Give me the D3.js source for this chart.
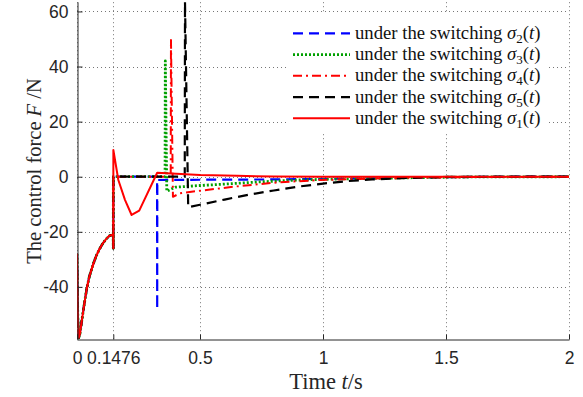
<!DOCTYPE html>
<html>
<head>
<meta charset="utf-8">
<script src="https://cdn.jsdelivr.net/npm/d3@7"></script>
<style>
  html, body { margin: 0; padding: 0; background: #fff; }
  svg { display: block; }
</style>
</head>
<body>
<svg id="chart" width="583" height="397"></svg>
<script>
// ---------- data ----------
const xTicks = [0, 0.1476, 0.5, 1, 1.5, 2];
const xTickLabels = ["0", "0.1476", "0.5", "1", "1.5", "2"];
const yTicks = [-40, -20, 0, 20, 40, 60];
const yTickLabels = ["-40", "-20", "0", "20", "40", "60"];

// shared start (all switching laws identical until t = 0.1476)
const prefixT = [0, 0.003, 0.007, 0.012, 0.02, 0.03, 0.04, 0.05, 0.065, 0.077, 0.09, 0.105, 0.12, 0.131, 0.14, 0.147, 0.1476];
const prefixF = [-28, -50, -58.5, -57, -52, -46, -40.5, -36.3, -32, -29, -26.5, -24.2, -22.5, -21.5, -21.2, -21.1, -26];

// sigma_1 (red solid)
const s1T = [0.1478, 0.168, 0.195, 0.222, 0.253, 0.326, 0.5, 0.65, 0.8, 1.0, 1.5, 2.0];
const s1F = [9.7, -1.2, -8.4, -13.9, -12.3, 1.45, 0.6, 0.3, 0.1, 0, 0, 0];
// sigma_2 (blue dashed)
const s2T = [0.1478, 0.3255, 0.326, 0.3265, 0.5, 0.8, 1.0, 1.15, 1.3, 1.45, 1.6, 1.8, 2.0];
const s2F = [0, 0, -48.1, -1.2, -1.1, -1.0, -0.8, -0.6, -0.4, -0.2, -0.1, 0, 0];
// sigma_3 (green dotted)
const s3T = [0.1478, 0.358, 0.359, 0.365, 0.4, 0.5, 0.58, 0.74, 0.9, 1.07, 1.23, 1.4, 1.6, 2.0];
const s3F = [0, 0, 42, -5.3, -3.8, -3.2, -2.8, -1.9, -1.2, -0.8, -0.6, -0.3, -0.1, 0];
// sigma_4 (red dash-dot)
const s4T = [0.1478, 0.381, 0.382, 0.39, 0.419, 0.5, 0.66, 0.825, 0.99, 1.15, 1.35, 1.6, 2.0];
const s4F = [0, 0, 49.6, -7.3, -6.0, -5.1, -3.4, -2.0, -1.2, -0.8, -0.4, -0.15, 0];
// sigma_5 (black dashed)
const s5T = [0.1478, 0.438, 0.439, 0.452, 0.5, 0.6, 0.7, 0.8, 0.9, 1.0, 1.1, 1.2, 1.3, 1.4, 1.5, 1.7, 2.0];
const s5F = [0, 0, 63.5, -11.1, -10.2, -8.3, -6.5, -5.0, -3.6, -2.5, -1.6, -1.0, -0.6, -0.3, -0.1, 0, 0];

const seriesNames = ["\u03c3", "\u03c3", "\u03c3", "\u03c3", "\u03c3"];
const seriesSubs = ["2", "3", "4", "5", "1"];

// ---------- styles ----------
// pivot: index (in the series' own arrays) of a spike tip where the path doubles back;
// the dash phase is aligned there so the overlapping strokes keep their gaps.
const styles = [
  { T: s2T, F: s2F, color: "#0000ff", width: 2.2, dash: "10,6", period: 16, center: 5, pivot: 2 },
  { T: s3T, F: s3F, color: "#00a000", width: 2.8, dash: "2,2" },
  { T: s4T, F: s4F, color: "#ff0000", width: 2.0, dash: "9,4,2,4" },
  { T: s5T, F: s5F, color: "#000000", width: 2.2, dash: "10,6" },
  { T: s1T, F: s1F, color: "#ff0000", width: 2.0, dash: null }
];

const svg = d3.select("#chart");
const x = d3.scaleLinear().domain([0, 2]).range([77, 569]);
const y = d3.scaleLinear().domain([-59, 63.5]).range([339.2, 1.8]);

// clip
svg.append("defs").append("clipPath").attr("id", "clip")
  .append("rect").attr("x", 77).attr("y", 1.8).attr("width", 492).attr("height", 337.4);

// grid
const grid = svg.append("g").attr("stroke", "#555").attr("stroke-width", 1)
  .attr("stroke-dasharray", "1,3").attr("opacity", 0.8);
grid.selectAll("line.v").data(xTicks).enter().append("line")
  .attr("x1", d => Math.round(x(d)) + 0.5).attr("x2", d => Math.round(x(d)) + 0.5)
  .attr("y1", y.range()[0]).attr("y2", y.range()[1]);
grid.selectAll("line.h").data(yTicks).enter().append("line")
  .attr("y1", d => Math.round(y(d)) + 0.5).attr("y2", d => Math.round(y(d)) + 0.5)
  .attr("x1", x.range()[0]).attr("x2", x.range()[1]);

// lines
const line = d3.line().x(d => x(d[0])).y(d => y(d[1]));
const plot = svg.append("g").attr("clip-path", "url(#clip)");
styles.forEach(s => {
  const pts = prefixT.map((t, i) => [t, prefixF[i]]).concat(s.T.map((t, i) => [t, s.F[i]]));
  const p = plot.append("path").datum(pts)
    .attr("fill", "none").attr("stroke", s.color).attr("stroke-width", s.width)
    .attr("stroke-dasharray", s.dash).attr("stroke-linejoin", "round")
    .attr("d", line);
  if (s.pivot !== undefined) {
    const tmp = svg.append("path").attr("d", line(pts.slice(0, prefixT.length + s.pivot + 1)));
    const L = tmp.node().getTotalLength();
    tmp.remove();
    const off = ((s.center - L) % s.period + s.period) % s.period;
    p.attr("stroke-dashoffset", -off);
  }
});

// axes
const xAxis = d3.axisBottom(x).tickValues(xTicks).tickFormat((d, i) => xTickLabels[i])
  .tickSizeInner(-5).tickSizeOuter(0).tickPadding(0);
const gx = svg.append("g").attr("transform", "translate(0,339.5)").call(xAxis);
gx.selectAll("text").attr("y", 24.5).attr("dy", 0);

const yAxis = d3.axisLeft(y).tickValues(yTicks).tickFormat((d, i) => yTickLabels[i])
  .tickSizeInner(-5).tickSizeOuter(0).tickPadding(9);
const gy = svg.append("g").attr("transform", "translate(77.5,0)").call(yAxis);

[gx, gy].forEach(g => {
  g.select(".domain").attr("stroke", "#262626");
  g.selectAll(".tick line").attr("stroke", "#262626");
  g.selectAll("text").attr("fill", "#262626")
    .style("font-family", "'Liberation Sans', Arial, sans-serif").style("font-size", "17.5px");
});

// axis titles
const serif = "'Liberation Serif', 'Times New Roman', serif";
const xt = svg.append("text").attr("x", 326).attr("y", 389).attr("text-anchor", "middle")
  .style("font-family", serif).style("font-size", "22.5px").attr("fill", "#262626");
xt.append("tspan").text("Time ");
xt.append("tspan").style("font-style", "italic").text("t");
xt.append("tspan").text("/s");

const yt = svg.append("text").attr("transform", "translate(41,171) rotate(-90)").attr("text-anchor", "middle")
  .style("font-family", serif).style("font-size", "20.5px").attr("fill", "#262626");
yt.append("tspan").text("The control force ");
yt.append("tspan").style("font-style", "italic").text("F");
yt.append("tspan").text(" /N");

// legend
const leg = svg.append("g");
leg.append("rect").attr("x", 286).attr("y", 14).attr("width", 262).attr("height", 118).attr("fill", "#fff");
styles.forEach((s, i) => {
  const yy = 33.3 + i * 21.25;
  leg.append("line").attr("x1", 293).attr("x2", 350).attr("y1", yy).attr("y2", yy)
    .attr("stroke", s.color).attr("stroke-width", s.width).attr("stroke-dasharray", s.dash);
  const t = leg.append("text").attr("x", 355).attr("y", yy + 5.5)
    .style("font-family", serif).style("font-size", "18.7px").attr("fill", "#111");
  t.append("tspan").text("under the switching ");
  t.append("tspan").style("font-style", "italic").text(seriesNames[i]);
  t.append("tspan").attr("dy", 4).style("font-size", "13px").text(seriesSubs[i]);
  t.append("tspan").attr("dy", -4).text("(");
  t.append("tspan").style("font-style", "italic").text("t");
  t.append("tspan").text(")");
});
</script>
</body>
</html>
